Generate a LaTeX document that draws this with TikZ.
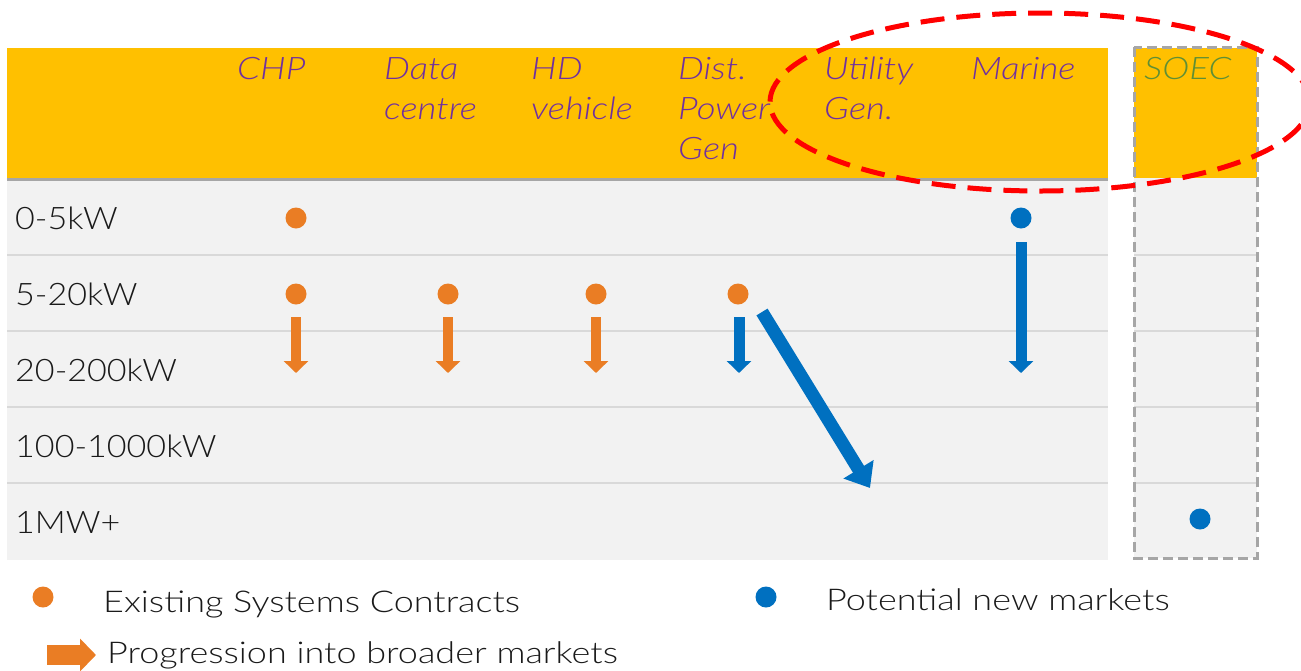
\documentclass[tikz,border=0pt]{standalone}
\usepackage{fontspec}
\setmainfont{Lato}[
  UprightFont=* Light,
  ItalicFont=* Light Italic]
\newfontfamily\widefont{Lato}[
  UprightFont=* Light,
  FakeStretch=1.20]
\newfontfamily\rowfont{Lato}[
  UprightFont=* Light,
  FakeStretch=1.10]
\newfontfamily\hdrfont{Lato}[
  UprightFont=* Light Italic,
  FakeStretch=1.18]
\usetikzlibrary{arrows.meta}
\definecolor{hdryellow}{HTML}{FFC000}
\definecolor{hdrpurple}{HTML}{7030A0}
\definecolor{soecgreen}{HTML}{5F8F35}
\definecolor{cellgrey}{HTML}{F2F2F2}
\definecolor{rulegrey}{HTML}{D9D9D9}
\definecolor{framegrey}{HTML}{A6A6A6}
\definecolor{dotorange}{HTML}{EA7D24}
\definecolor{dotblue}{HTML}{0070C0}
\definecolor{labelblack}{HTML}{1A1A1A}
\definecolor{ringred}{HTML}{FF0000}
\begin{document}
\begin{tikzpicture}[x=1pt,y=-1pt,
  hdr/.style={anchor=north west,inner sep=0pt,align=left,text=hdrpurple,
    font=\hdrfont\fontsize{31}{40}\selectfont},
  rowlabel/.style={anchor=west,inner sep=0pt,text=labelblack,
    font=\rowfont\fontsize{31}{36}\selectfont},
  legtext/.style={anchor=base west,inner sep=0pt,text=labelblack,
    font=\widefont\fontsize{30}{36}\selectfont},
  odot/.style={circle,fill=dotorange,minimum size=21pt,inner sep=0pt},
  bdot/.style={circle,fill=dotblue,minimum size=21pt,inner sep=0pt},
  rowrule/.style={draw=rulegrey,line width=2pt},
  oarrow/.style={draw=dotorange,line width=10pt,
    -{Triangle[width=24pt,length=12pt]}},
  barrow/.style={draw=dotblue,line width=11pt,
    -{Triangle[width=24pt,length=12pt]}},
  bigarrow/.style={draw=dotblue,line width=13pt,
    -{Triangle[width=34pt,length=22pt]}},
  legarrow/.style={draw=dotorange,line width=20pt,
    -{Triangle[width=32pt,length=16pt]}},
]
\useasboundingbox (0,0) rectangle (1301,670);
\clip (0,0) rectangle (1301,670);

% main table
\fill[cellgrey] (7,178) rectangle (1108,560);
\fill[hdryellow] (7,48) rectangle (1108,178);
\foreach \y in {255,331,407,483} \draw[rowrule] (7,\y) -- (1108,\y);
\draw[draw=framegrey,line width=3pt] (7,179) -- (1108,179);

% SOEC column
\fill[cellgrey] (1134,178) rectangle (1257,558);
\fill[hdryellow] (1134,48) rectangle (1257,178);
\foreach \y in {255,331,407,483} \draw[rowrule] (1134,\y) -- (1257,\y);
\draw[draw=framegrey,line width=3pt,dash pattern=on 10pt off 5pt]
  (1134,47) rectangle (1257,558);

% column headings
\node[hdr] (hchp)  at (237,57) {CHP};
\node[hdr] (hdata) at (384,57) {Data\\centre};
\node[hdr] (hhd)   at (531,57) {HD\\vehicle};
\node[hdr] (hdist) at (678,57) {Dist.\\Power\\Gen};
\node[hdr] (hutil) at (824,57) {Utility\\Gen.};
\node[hdr] (hmar)  at (971,57) {Marine};
\node[hdr,text=soecgreen] (hsoec) at (1144,57) {SOEC};

% row labels
\node[rowlabel] (r1) at (15,218) {0-5kW};
\node[rowlabel] (r2) at (15,294) {5-20kW};
\node[rowlabel] (r3) at (15,370) {20-200kW};
\node[rowlabel] (r4) at (15,446) {100-1000kW};
\node[rowlabel] (r5) at (15,522) {1MW+};

% markers
\node[odot] (chpa)  at (296,218) {};
\node[bdot] (mara)  at (1021,218) {};
\node[odot] (chpb)  at (296,294) {};
\node[odot] (datab) at (448,294) {};
\node[odot] (hdb)   at (596,294) {};
\node[odot] (distb) at (738,294) {};
\node[bdot] (soece) at (1200,519) {};

% progression arrows
\coordinate (chps) at (296,317);  \coordinate (chpe) at (296,373);
\coordinate (datas) at (448,317); \coordinate (datae) at (448,373);
\coordinate (hds) at (596,317);   \coordinate (hde) at (596,373);
\coordinate (dists) at (739,317); \coordinate (diste) at (739,373);
\coordinate (mars) at (1021,242); \coordinate (mare) at (1021,373);
\coordinate (diags) at (762,312); \coordinate (diage) at (870,488);
\draw[oarrow] (chps) -- (chpe);
\draw[oarrow] (datas) -- (datae);
\draw[oarrow] (hds) -- (hde);
\draw[barrow] (dists) -- (diste);
\draw[barrow] (mars) -- (mare);
\draw[bigarrow] (diags) -- (diage);

% highlight ring
\draw[ringred,line width=5pt,dash pattern=on 24pt off 12pt]
  (1040,102) ellipse [x radius=270pt,y radius=89pt];

% legend
\node[odot] (lgo) at (43,597) {};
\node[legtext] (lgot) at (103,612) {Existing Systems Contracts};
\node[bdot] (lgb) at (766,597) {};
\node[legtext] (lgbt) at (826,610) {Potential new markets};
\coordinate (lgas) at (47,655); \coordinate (lgae) at (96,655);
\draw[legarrow] (lgas) -- (lgae);
\node[legtext] (lgat) at (107,663) {Progression into broader markets};
\end{tikzpicture}
\end{document}
